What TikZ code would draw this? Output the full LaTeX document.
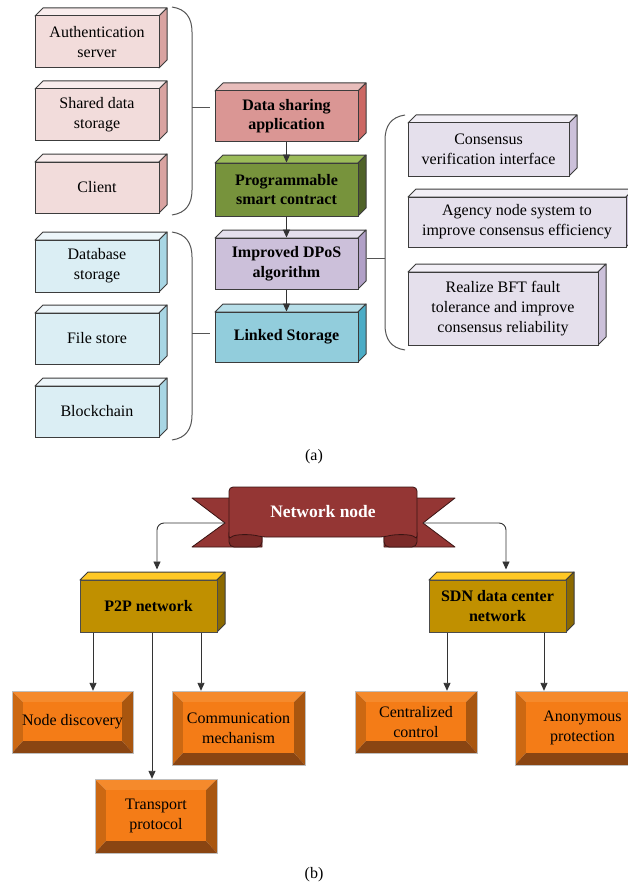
\documentclass[tikz,border=0pt]{standalone}
\usepackage{fontspec}
\setmainfont{Liberation Serif}
\usetikzlibrary{arrows.meta}

\definecolor{cubeedge}{HTML}{3C3C3C}
\definecolor{pinkF}{HTML}{F2DCDB}
\definecolor{pinkT}{HTML}{F9EDED}
\definecolor{pinkS}{HTML}{D9A3A1}
\definecolor{blueF}{HTML}{DBEEF4}
\definecolor{blueT}{HTML}{EDF6FA}
\definecolor{blueS}{HTML}{A8D6E4}
\definecolor{redF}{HTML}{DA9694}
\definecolor{redT}{HTML}{E8BDBB}
\definecolor{redS}{HTML}{CC6864}
\definecolor{greenF}{HTML}{77933C}
\definecolor{greenT}{HTML}{9BBB59}
\definecolor{greenS}{HTML}{4F6228}
\definecolor{lilacF}{HTML}{CCC0DA}
\definecolor{lilacT}{HTML}{E4DFEC}
\definecolor{lilacS}{HTML}{B1A0C7}
\definecolor{cyanF}{HTML}{92CDDC}
\definecolor{cyanT}{HTML}{B7DEE8}
\definecolor{cyanS}{HTML}{4BACC6}
\definecolor{paleF}{HTML}{E5E0EC}
\definecolor{paleT}{HTML}{F2EFF6}
\definecolor{paleS}{HTML}{CCC1DA}
\definecolor{goldF}{HTML}{C09000}
\definecolor{goldT}{HTML}{FFC825}
\definecolor{goldS}{HTML}{8C6A00}
\definecolor{banF}{HTML}{943634}
\definecolor{banD}{HTML}{7A2A28}
\definecolor{banE}{HTML}{3A1413}
\definecolor{orFace}{HTML}{F47C17}
\definecolor{orTop}{HTML}{F58A2C}
\definecolor{orLeft}{HTML}{CC6812}
\definecolor{orRight}{HTML}{A9560F}
\definecolor{orBottom}{HTML}{8A4512}
\definecolor{linkgray}{HTML}{333333}
\definecolor{bracegray}{HTML}{555555}

\newcommand\regfont{\fontsize{16}{20}\selectfont}
\newcommand\boldfont{\fontsize{16}{19.5}\selectfont\bfseries}

% box with a front face, a top face and a right side face
% #1 name, #2 x1, #3 y1, #4 x2, #5 y2, #6 top colour, #7 side colour, #8 node options, #9 text
\newcommand\cubebox[9]{%
  \filldraw[fill=#6,draw=cubeedge,line width=1pt,line join=round]
    (#2,#3) -- (#2+8,#3-8) -- (#4+8,#3-8) -- (#4,#3) -- cycle;
  \filldraw[fill=#7,draw=cubeedge,line width=1pt,line join=round]
    (#4,#3) -- (#4+8,#3-8) -- (#4+8,#5-8) -- (#4,#5) -- cycle;
  \node[cubefront,#8,minimum width={#4-#2},minimum height={#5-#3}]
    (#1) at ({(#2+#4)/2},{(#3+#5)/2}) {#9};
}

% bevelled button: #1 name, #2 x1, #3 y1, #4 x2, #5 y2, #6 text
\newcommand\bevelbox[6]{%
  \fill[orTop] (#2,#3) -- (#4,#3) -- (#4-11,#3+11) -- (#2+11,#3+11) -- cycle;
  \fill[orLeft] (#2,#3) -- (#2+11,#3+11) -- (#2+11,#5-12) -- (#2,#5) -- cycle;
  \fill[orRight] (#4,#3) -- (#4,#5) -- (#4-11,#5-12) -- (#4-11,#3+11) -- cycle;
  \fill[orBottom] (#2,#5) -- (#4,#5) -- (#4-11,#5-12) -- (#2+11,#5-12) -- cycle;
  \fill[orFace] (#2+11,#3+11) rectangle (#4-11,#5-12);
  \draw[black!25,line width=0.6pt] (#2,#3) rectangle (#4,#5);
  \node[bevtext,minimum width={#4-#2},minimum height={#5-#3}]
    (#1) at ({(#2+#4)/2},{(#3+#5)/2}) {#6};
}

\begin{document}
\begin{tikzpicture}[x=1pt,y=-1pt,
  cubefront/.style={draw=cubeedge,line width=1pt,inner sep=0pt,align=center,text=black},
  bevtext/.style={inner sep=0pt,align=center,font=\regfont,text=black},
  arr/.style={draw=linkgray,line width=0.9pt,-{Triangle[length=8pt,width=7pt]}},
  bracket/.style={draw=bracegray,line width=1pt},
  caption/.style={font=\fontsize{16}{19}\selectfont}]
\useasboundingbox (0,0) rectangle (628,888);
\fill[white] (0,0) rectangle (628,888);

% ---------- (a) layered structure ----------
\cubebox{auth}{35}{16}{159}{68}{pinkT}{pinkS}{fill=pinkF,font=\regfont}{Authentication\\server}
\cubebox{shared}{35}{89}{159}{140}{pinkT}{pinkS}{fill=pinkF,font=\regfont}{Shared data\\storage}
\cubebox{client}{35}{162}{159}{213}{pinkT}{pinkS}{fill=pinkF,font=\regfont}{Client}

\cubebox{dbs}{35}{240}{159}{292}{blueT}{blueS}{fill=blueF,font=\regfont}{Database\\storage}
\cubebox{files}{35}{313}{159}{364}{blueT}{blueS}{fill=blueF,font=\regfont}{File store}
\cubebox{chain}{35}{386}{159}{437}{blueT}{blueS}{fill=blueF,font=\regfont}{Blockchain}

\cubebox{app}{215}{91}{358}{141}{redT}{redS}{fill=redF,font=\boldfont}{Data sharing\\application}
\cubebox{contract}{215}{163}{358}{216}{greenT}{greenS}{fill=greenF,font=\boldfont}{Programmable\\smart contract}
\cubebox{dpos}{215}{238}{358}{289}{lilacT}{lilacS}{fill=lilacF,font=\boldfont}{Improved DPoS\\algorithm}
\cubebox{linked}{215}{312}{358}{362}{cyanT}{cyanS}{fill=cyanF,font=\boldfont}{Linked Storage}

\cubebox{cvi}{408}{123}{569}{176}{paleT}{paleS}{fill=paleF,font=\regfont}{Consensus\\verification interface}
\cubebox{agency}{408}{197}{626}{247}{paleT}{paleS}{fill=paleF,font=\regfont}{Agency node system to\\improve consensus efficiency}
\cubebox{bft}{408}{272}{598}{345}{paleT}{paleS}{fill=paleF,font=\regfont}{Realize BFT fault\\tolerance and improve\\consensus reliability}

\draw[arr] (app.south) -- (contract.north);
\draw[arr] (contract.south) -- (dpos.north);
\draw[arr] (dpos.south) -- (linked.north);

% grouping brackets
\draw[bracket] (172,7) .. controls (186,9) and (192,18) .. (192,32)
  -- (192,190) .. controls (192,204) and (186,213) .. (172,215);
\coordinate (bkA) at (192,108);
\draw[bracket] (bkA) -- ([xshift=-5pt]bkA -| app.west);

\draw[bracket] (172,232) .. controls (186,234) and (192,243) .. (192,257)
  -- (192,415) .. controls (192,429) and (186,438) .. (172,440);
\coordinate (bkB) at (192,333);
\draw[bracket] (bkB) -- ([xshift=-5pt]bkB -| linked.west);

\draw[bracket] (405,115) .. controls (391,117) and (385,126) .. (385,140)
  -- (385,325) .. controls (385,339) and (391,348) .. (405,350);
\coordinate (bkC) at (385,258);
\draw[bracket] (bkC) -- (367,258);

\node[caption] (capa) at (314,457) {(a)};

% ---------- (b) network node ----------
% ribbon tails
\filldraw[fill=banF,draw=banE,line width=0.8pt,line join=round]
  (192,498) -- (262,498) -- (262,547) -- (192,547) -- (225,523) -- cycle;
\filldraw[fill=banF,draw=banE,line width=0.8pt,line join=round]
  (455,498) -- (384,498) -- (384,547) -- (455,547) -- (423,523) -- cycle;
% rolled ends
\filldraw[fill=banD,draw=banE,line width=0.8pt,rounded corners=5pt]
  (229,528) -- (229,547) -- (262,547) -- (262,528) -- cycle;
\filldraw[fill=banD,draw=banE,line width=0.8pt,rounded corners=5pt]
  (384,528) -- (384,547) -- (417,547) -- (417,528) -- cycle;
% front panel
\filldraw[fill=banF,draw=banE,line width=0.8pt,rounded corners=4pt]
  (229,540) -- (229,487) -- (417,487) -- (417,540)
  .. controls (412,534) and (395,534) .. (384,537) -- (262,537)
  .. controls (251,534) and (234,534) .. (229,540) -- cycle;
\node[font=\fontsize{17.5}{20}\selectfont\bfseries,text=white] (banner) at (323,512) {Network node};
\coordinate (notchL) at (225,523);
\coordinate (notchR) at (423,523);

\cubebox{p2p}{80}{580}{217}{632}{goldT}{goldS}{fill=goldF,draw=black!70,font=\boldfont}{P2P network}
\cubebox{sdn}{429}{580}{566}{632}{goldT}{goldS}{fill=goldF,draw=black!70,font=\boldfont}{SDN data center\\network}

\draw[arr,rounded corners=7pt] (notchL) -| ([xshift=8.5pt,yshift=10pt]p2p.north);
\draw[arr,rounded corners=7pt] (notchR) -| ([xshift=8.5pt,yshift=10pt]sdn.north);

\bevelbox{discovery}{12}{691}{133}{753}{Node discovery}
\bevelbox{comm}{172}{691}{305}{765}{Communication\\mechanism}
\bevelbox{transport}{95}{779}{217}{853}{Transport\\protocol}
\bevelbox{central}{355}{691}{477}{753}{Centralized\\control}
\bevelbox{anon}{515}{691}{650}{765}{Anonymous\\protection}

\coordinate (pA) at ([xshift=-55.5pt]p2p.south);
\coordinate (pB) at ([xshift=3.5pt]p2p.south);
\coordinate (pC) at ([xshift=52.5pt]p2p.south);
\draw[arr] (pA) -- (pA |- discovery.north);
\draw[arr] (pB) -- (pB |- transport.north);
\draw[arr] (pC) -- (pC |- comm.north);

\coordinate (sA) at ([xshift=-50.5pt]sdn.south);
\coordinate (sB) at ([xshift=46.5pt]sdn.south);
\draw[arr] (sA) -- (sA |- central.north);
\draw[arr] (sB) -- (sB |- anon.north);

\node[caption] (capb) at (314,875) {(b)};
\end{tikzpicture}
\end{document}
